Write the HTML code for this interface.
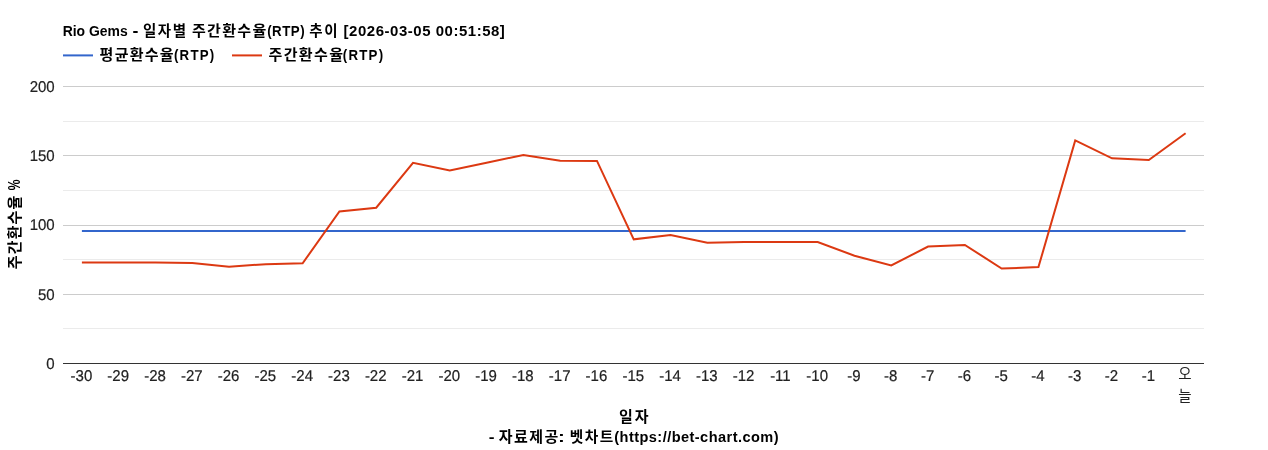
<!DOCTYPE html>
<html lang="ko"><head><meta charset="utf-8"><title>Rio Gems - RTP</title>
<style>html,body{margin:0;padding:0;background:#fff}body{width:1268px;height:450px;overflow:hidden;font-family:"Liberation Sans",sans-serif}svg{display:block;will-change:transform}text{font-family:"Liberation Sans","Noto Sans CJK KR",sans-serif}.b{font-weight:bold;fill:#000}.t{fill:#222;font-size:15px;text-rendering:geometricPrecision;stroke:#222;stroke-width:.2px}.k{font-weight:bold;fill:#000;font-size:15px}</style>
</head><body>
<svg width="1268" height="450" viewBox="0 0 1268 450">
<rect x="0" y="0" width="1268" height="450" fill="#ffffff"/>
<g shape-rendering="crispEdges">
<rect x="63" y="328" width="1141" height="1" fill="#ebebeb"/>
<rect x="63" y="259" width="1141" height="1" fill="#ebebeb"/>
<rect x="63" y="190" width="1141" height="1" fill="#ebebeb"/>
<rect x="63" y="121" width="1141" height="1" fill="#ebebeb"/>
<rect x="63" y="294" width="1141" height="1" fill="#cccccc"/>
<rect x="63" y="225" width="1141" height="1" fill="#cccccc"/>
<rect x="63" y="155" width="1141" height="1" fill="#cccccc"/>
<rect x="63" y="86" width="1141" height="1" fill="#cccccc"/>
<rect x="63" y="363" width="1141" height="1" fill="#333333"/>
</g>
<path d="M81.9 231L1185.6 231" stroke="#3366cc" stroke-width="2" fill="none"/>
<path d="M81.9 262.5L118.69 262.5L155.48 262.5L192.27 262.9L229.06 266.7L265.85 264.15L302.64 263.3L339.43 211.5L376.22 207.7L413.01 162.8L449.8 170.55L486.59 162.8L523.38 155L560.17 160.8L596.96 160.9L633.75 239.3L670.54 235L707.33 242.65L744.12 242L780.91 242L817.7 242L854.49 255.75L891.28 265.4L928.07 246.6L964.86 244.9L1001.65 268.55L1038.44 267.1L1075.23 140.4L1112.02 158.3L1148.81 160L1185.6 133.3" stroke="#dc3912" stroke-width="2" fill="none"/>
<text class="t" transform="matrix(1 0 0 1.04 54.7 368.9)" text-anchor="end">0</text>
<text class="t" transform="matrix(1 0 0 1.04 54.7 299.65)" text-anchor="end">50</text>
<text class="t" transform="matrix(1 0 0 1.04 54.7 230.4)" text-anchor="end">100</text>
<text class="t" transform="matrix(1 0 0 1.04 54.7 161.15)" text-anchor="end">150</text>
<text class="t" transform="matrix(1 0 0 1.04 54.7 91.9)" text-anchor="end">200</text>
<text class="t" transform="matrix(1 0 0 1.04 81.4 381.4)" text-anchor="middle">-30</text>
<text class="t" transform="matrix(1 0 0 1.04 118.19 381.4)" text-anchor="middle">-29</text>
<text class="t" transform="matrix(1 0 0 1.04 154.98 381.4)" text-anchor="middle">-28</text>
<text class="t" transform="matrix(1 0 0 1.04 191.77 381.4)" text-anchor="middle">-27</text>
<text class="t" transform="matrix(1 0 0 1.04 228.56 381.4)" text-anchor="middle">-26</text>
<text class="t" transform="matrix(1 0 0 1.04 265.35 381.4)" text-anchor="middle">-25</text>
<text class="t" transform="matrix(1 0 0 1.04 302.14 381.4)" text-anchor="middle">-24</text>
<text class="t" transform="matrix(1 0 0 1.04 338.93 381.4)" text-anchor="middle">-23</text>
<text class="t" transform="matrix(1 0 0 1.04 375.72 381.4)" text-anchor="middle">-22</text>
<text class="t" transform="matrix(1 0 0 1.04 412.51 381.4)" text-anchor="middle">-21</text>
<text class="t" transform="matrix(1 0 0 1.04 449.3 381.4)" text-anchor="middle">-20</text>
<text class="t" transform="matrix(1 0 0 1.04 486.09 381.4)" text-anchor="middle">-19</text>
<text class="t" transform="matrix(1 0 0 1.04 522.88 381.4)" text-anchor="middle">-18</text>
<text class="t" transform="matrix(1 0 0 1.04 559.67 381.4)" text-anchor="middle">-17</text>
<text class="t" transform="matrix(1 0 0 1.04 596.46 381.4)" text-anchor="middle">-16</text>
<text class="t" transform="matrix(1 0 0 1.04 633.25 381.4)" text-anchor="middle">-15</text>
<text class="t" transform="matrix(1 0 0 1.04 670.04 381.4)" text-anchor="middle">-14</text>
<text class="t" transform="matrix(1 0 0 1.04 706.83 381.4)" text-anchor="middle">-13</text>
<text class="t" transform="matrix(1 0 0 1.04 743.62 381.4)" text-anchor="middle">-12</text>
<text class="t" transform="matrix(1 0 0 1.04 780.41 381.4)" text-anchor="middle">-11</text>
<text class="t" transform="matrix(1 0 0 1.04 817.2 381.4)" text-anchor="middle">-10</text>
<text class="t" transform="matrix(1 0 0 1.04 853.99 381.4)" text-anchor="middle">-9</text>
<text class="t" transform="matrix(1 0 0 1.04 890.78 381.4)" text-anchor="middle">-8</text>
<text class="t" transform="matrix(1 0 0 1.04 927.57 381.4)" text-anchor="middle">-7</text>
<text class="t" transform="matrix(1 0 0 1.04 964.36 381.4)" text-anchor="middle">-6</text>
<text class="t" transform="matrix(1 0 0 1.04 1001.15 381.4)" text-anchor="middle">-5</text>
<text class="t" transform="matrix(1 0 0 1.04 1037.94 381.4)" text-anchor="middle">-4</text>
<text class="t" transform="matrix(1 0 0 1.04 1074.73 381.4)" text-anchor="middle">-3</text>
<text class="t" transform="matrix(1 0 0 1.04 1111.52 381.4)" text-anchor="middle">-2</text>
<text class="t" transform="matrix(1 0 0 1.04 1148.31 381.4)" text-anchor="middle">-1</text>
<text transform="matrix(0.9962 0 0 1.0200 62.67 35.6)" font-size="14" font-weight="bold" fill="#000" style="font-kerning:none">Rio Gems</text>
<text transform="matrix(1.2659 0 0 1.2000 132.51 35.6)" font-size="14" font-weight="bold" fill="#000" style="font-kerning:none">-</text>
<text class="k" x="143" y="35.6" style="font-size:14.5px" textLength="43" lengthAdjust="spacing">일자별</text>
<text class="k" x="192" y="35.6" textLength="74.2" lengthAdjust="spacing">주간환수율</text>
<text transform="matrix(0.9500 0 0 1.0200 267.14 35.6)" font-size="14" font-weight="bold" fill="#000" style="font-kerning:none;letter-spacing:0.544px">(RTP)</text>
<text class="k" x="309.2" y="35.6" style="font-size:14.5px" textLength="28.4" lengthAdjust="spacing">추이</text>
<text transform="matrix(1.0700 0 0 1.0200 343.56 35.6)" font-size="14" font-weight="bold" fill="#000" style="font-kerning:none;letter-spacing:0.498px">[2026-03-05 00:51:58]</text>
<path d="M63 55.4H93" stroke="#3366cc" stroke-width="2" fill="none"/>
<text class="k" x="99.6" y="59.7" textLength="74" lengthAdjust="spacing">평균환수율</text>
<text transform="matrix(0.9500 0 0 1.0200 173.94 59.7)" font-size="14" font-weight="bold" fill="#000" style="font-kerning:none;letter-spacing:1.281px">(RTP)</text>
<path d="M232 55.4H262" stroke="#dc3912" stroke-width="2" fill="none"/>
<text class="k" x="268.5" y="59.7" textLength="74.5" lengthAdjust="spacing">주간환수율</text>
<text transform="matrix(0.9500 0 0 1.0200 342.84 59.7)" font-size="14" font-weight="bold" fill="#000" style="font-kerning:none;letter-spacing:1.281px">(RTP)</text>
<text class="k" x="20.1" y="269.3" transform="rotate(-90 20.1 269.3)" textLength="73.7" lengthAdjust="spacing">주간환수율</text>
<text transform="matrix(0 -0.8610 1.1400 0 20.3 190.3)" font-size="14" font-weight="bold" fill="#000" style="font-kerning:none">%</text>
<text x="1184.8" y="378.7" font-size="14.5" fill="#222" text-anchor="middle">오</text>
<text x="1184.8" y="400.9" font-size="14.5" fill="#222" text-anchor="middle">늘</text>
<text class="k" x="619.1" y="421.6" textLength="29.5" lengthAdjust="spacing">일자</text>
<text transform="matrix(1.2378 0 0 1.1000 488.82 441.8)" font-size="14" font-weight="bold" fill="#000" style="font-kerning:none">-</text>
<text class="k" x="498.7" y="441.8" textLength="59.7" lengthAdjust="spacing">자료제공</text>
<text transform="matrix(1.4730 0 0 1.0000 558.02 441.8)" font-size="14" font-weight="bold" fill="#000" style="font-kerning:none">:</text>
<text class="k" x="569.7" y="441.8" style="font-size:14.7px" textLength="43.6" lengthAdjust="spacing">벳차트</text>
<text transform="matrix(1.0400 0 0 1.0000 614.27 441.8)" font-size="14" font-weight="bold" fill="#000" style="font-kerning:none;letter-spacing:0.435px">(https://bet-chart.com)</text>
</svg></body></html>
